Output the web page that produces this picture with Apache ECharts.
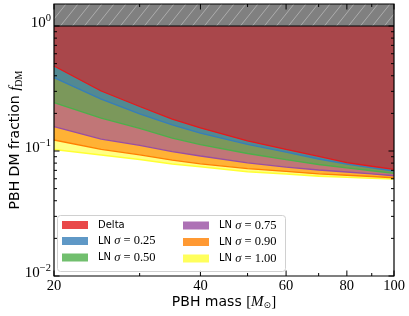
<!DOCTYPE html>
<html><head><meta charset="utf-8">
<script src="https://cdn.jsdelivr.net/npm/echarts@6/dist/echarts.min.js"></script>
<style>html,body{margin:0;padding:0;background:#fff}#c{width:409px;height:316px}</style>
</head><body><div id="c"></div>
<script>
// ---- data ----
const masses = [20, 25, 30, 35, 40, 50, 60, 70, 80, 90, 100];
const fDelta = [0.479, 0.302, 0.227, 0.180, 0.153, 0.1205, 0.103, 0.0907, 0.0807, 0.0755, 0.0714];
const fLN025 = [0.386, 0.260, 0.1985, 0.162, 0.139, 0.113, 0.098, 0.0863, 0.0784, 0.0734, 0.0692];
const fLN050 = [0.2434, 0.1834, 0.152, 0.127, 0.1125, 0.0955, 0.0853, 0.078, 0.0734, 0.0695, 0.0663];
const fLN075 = [0.1565, 0.1247, 0.111, 0.099, 0.0912, 0.0805, 0.0744, 0.0705, 0.0679, 0.0656, 0.0634];
const fLN090 = [0.1225, 0.1032, 0.0932, 0.0844, 0.079, 0.0723, 0.0686, 0.0655, 0.064, 0.0625, 0.0611];
const fLN100 = [0.1028, 0.0929, 0.0855, 0.0787, 0.0748, 0.0683, 0.0655, 0.063, 0.0616, 0.0606, 0.0597];
const seriesNames = ['Delta', 'LN σ = 0.25', 'LN σ = 0.50', 'LN σ = 0.75', 'LN σ = 0.90', 'LN σ = 1.00'];
const xMajorTicks = [20, 40, 60, 80, 100];
const xMinorTicks = [30, 50, 70, 90];
const yMajorTicks = [0.01, 0.1, 1];
const yMajorExponents = ['−2', '−1', '0'];
const yMinorTicks = [0.02, 0.03, 0.04, 0.05, 0.06, 0.07, 0.08, 0.09, 0.2, 0.3, 0.4, 0.5, 0.6, 0.7, 0.8, 0.9];
const excluded = [20, 1, 100, 1.5];
const X_MIN = 20, X_MAX = 100, Y_MIN = 0.01, Y_MAX = 1.5;

// ---- styles ----
const colors = ['#e41a1c', '#377eb8', '#4daf4a', '#984ea3', '#ff7f00', '#ffff33'];
const values = [fDelta, fLN025, fLN050, fLN075, fLN090, fLN100];
const SERIF = '"Liberation Serif", "DejaVu Serif", serif';
const SANS = '"DejaVu Sans", sans-serif';

const chart = echarts.init(document.getElementById('c'), null, {renderer: 'canvas'});

const lineSeries = [];
for (let k = values.length - 1; k >= 0; k--) {
  lineSeries.push({
    type: 'line', name: seriesNames[k], silent: true, symbol: 'none', z: 2,
    data: masses.map((m, i) => [m, values[k][i]]),
    itemStyle: {color: colors[k]},
    lineStyle: {color: colors[k], width: k === 5 ? 1.6 : 1.3},
    areaStyle: {origin: 'end', color: colors[k], opacity: 0.6}
  });
}

const bandSeries = {
  type: 'custom', silent: true, z: 4, clip: false,
  data: [excluded],
  encode: {x: [0, 2], y: [1, 3]},
  renderItem: function (params, api) {
    const p0 = api.coord([api.value(0), api.value(1)]);
    const p1 = api.coord([api.value(2), api.value(3)]);
    const xl = p0[0], yb = p0[1], xr = p1[0], yt = p1[1];
    const h = yb - yt, dx = h * 0.8, s = 12;
    const ch = [{type: 'rect', shape: {x: xl, y: yt, width: xr - xl, height: h},
      style: {fill: '#808080', stroke: null}}];
    for (let x = xl - dx; x < xr; x += s) {
      let ax = x, ay = yb, bx = x + dx, by = yt;
      if (ax < xl) { const t = (xl - ax) / dx; ax = xl; ay = yb - t * h; }
      if (bx > xr) { const t = (bx - xr) / dx; bx = xr; by = yt + t * h; }
      if (bx <= ax) continue;
      ch.push({type: 'line', shape: {x1: ax, y1: ay, x2: bx, y2: by},
        style: {stroke: '#b8b8b8', lineWidth: 0.8}});
    }
    ch.push({type: 'line', shape: {x1: xl, y1: yb, x2: xr, y2: yb}, style: {stroke: '#000', lineWidth: 1.2}});
    return {type: 'group', children: ch};
  }
};

const frameSeries = {
  type: 'custom', silent: true, z: 6, clip: false,
  data: [[X_MIN, Y_MIN, X_MAX, Y_MAX]],
  encode: {x: [0, 2], y: [1, 3]},
  renderItem: function (params, api) {
    const p0 = api.coord([api.value(0), api.value(1)]);
    const p1 = api.coord([api.value(2), api.value(3)]);
    return {type: 'rect', shape: {x: p0[0], y: p1[1], width: p1[0] - p0[0], height: p0[1] - p1[1]},
      style: {fill: null, stroke: '#000', lineWidth: 1.2}};
  }
};

const xTickData = xMajorTicks.map(v => [v, Y_MIN, 1]).concat(xMinorTicks.map(v => [v, Y_MIN, 0]));
const xTickSeries = {
  type: 'custom', silent: true, z: 6, clip: false,
  data: xTickData, encode: {x: 0, y: 1},
  renderItem: function (params, api) {
    const v = api.value(0), major = api.value(2);
    const b = api.coord([v, Y_MIN]), t = api.coord([v, Y_MAX]);
    const L = major ? 5.5 : 3;
    const ch = [
      {type: 'line', shape: {x1: b[0], y1: b[1], x2: b[0], y2: b[1] - L}, style: {stroke: '#000', lineWidth: 1}},
      {type: 'line', shape: {x1: t[0], y1: t[1], x2: t[0], y2: t[1] + L}, style: {stroke: '#000', lineWidth: 1}}
    ];
    if (major) ch.push({type: 'text', style: {x: b[0], y: b[1] + 3, text: String(v), align: 'center',
      verticalAlign: 'top', fontFamily: SERIF, fontSize: 14.5, fill: '#000'}});
    return {type: 'group', children: ch};
  }
};

const yTickData = yMajorTicks.map((v, i) => [X_MIN, v, 1, i]).concat(yMinorTicks.map(v => [X_MIN, v, 0, -1]));
const yTickSeries = {
  type: 'custom', silent: true, z: 6, clip: false,
  data: yTickData, encode: {x: 0, y: 1},
  renderItem: function (params, api) {
    const v = api.value(1), major = api.value(2), idx = api.value(3);
    const l = api.coord([X_MIN, v]), r = api.coord([X_MAX, v]);
    const L = major ? 5.5 : 3;
    const ch = [
      {type: 'line', shape: {x1: l[0], y1: l[1], x2: l[0] + L, y2: l[1]}, style: {stroke: '#000', lineWidth: 1}},
      {type: 'line', shape: {x1: r[0], y1: r[1], x2: r[0] - L, y2: r[1]}, style: {stroke: '#000', lineWidth: 1}}
    ];
    if (major) ch.push({type: 'text', style: {x: l[0] - 3, y: l[1] - 3,
      text: '10{s|' + yMajorExponents[idx] + '}', align: 'right', verticalAlign: 'middle',
      fontFamily: SERIF, fontSize: 15, fill: '#000',
      rich: {s: {fontFamily: SERIF, fontSize: 10.5, fill: '#000', padding: [0, 0, 9, 0]}}}});
    return {type: 'group', children: ch};
  }
};

function legendFmt(name) {
  if (name === 'Delta') return 'Delta';
  const parts = name.split('σ');
  return 'LN {s|σ}{m|' + parts[1] + '}';
}
const legendText = {
  fontFamily: SANS, fontSize: 10, color: '#000', padding: [0, 0, 0, 5], lineHeight: 12,
  rich: {s: {fontFamily: SERIF, fontStyle: 'italic', fontSize: 12.5, color: '#000'},
         m: {fontFamily: SERIF, fontSize: 12.5, color: '#000'}}
};
function makeLegend(names, left) {
  return {
    data: names, orient: 'vertical', left: left, top: 219, itemGap: 3.5,
    itemWidth: 26, itemHeight: 8, padding: 0, icon: 'rect', selectedMode: false, z: 10,
    itemStyle: {opacity: 0.8, borderWidth: 0}, textStyle: legendText, formatter: legendFmt
  };
}

chart.setOption({
  animation: false,
  backgroundColor: '#fff',
  grid: {left: 52, right: 15, top: 4, bottom: 40, containLabel: false},
  xAxis: {
    type: 'log', logBase: 10, min: X_MIN, max: X_MAX,
    axisLine: {show: false}, axisTick: {show: false}, axisLabel: {show: false}, splitLine: {show: false},
    name: 'PBH mass {m|[}{i|M}{o|⊙}{m|]}', nameLocation: 'middle', nameGap: 18,
    nameTextStyle: {fontFamily: SANS, fontSize: 14, color: '#000',
      rich: {m: {fontFamily: SERIF, fontSize: 15, color: '#000'},
             i: {fontFamily: SERIF, fontStyle: 'italic', fontSize: 15, color: '#000'},
             o: {fontFamily: SANS, fontSize: 9, color: '#000', padding: [7, 0, 0, 0]}}}
  },
  yAxis: {
    type: 'log', logBase: 10, min: Y_MIN, max: Y_MAX,
    axisLine: {show: false}, axisTick: {show: false}, axisLabel: {show: false}, splitLine: {show: false},
    name: 'PBH DM fraction {f|f}{d|DM}', nameLocation: 'middle', nameGap: 30,
    nameTextStyle: {fontFamily: SANS, fontSize: 14, color: '#000',
      rich: {f: {fontFamily: SERIF, fontStyle: 'italic', fontSize: 15, color: '#000'},
             d: {fontFamily: SERIF, fontSize: 10, color: '#000', padding: [7, 0, 0, 0]}}}
  },
  legend: [makeLegend(seriesNames.slice(0, 3), 62), makeLegend(seriesNames.slice(3), 183)],
  graphic: {elements: [{type: 'rect', z: 8, zlevel: 0,
    shape: {x: 57.5, y: 215.5, width: 228, height: 56, r: 3},
    style: {fill: 'rgba(255,255,255,0.8)', stroke: '#d0d0d0', lineWidth: 1}}]},
  series: lineSeries.concat([bandSeries, frameSeries, xTickSeries, yTickSeries])
});
</script></body></html>
